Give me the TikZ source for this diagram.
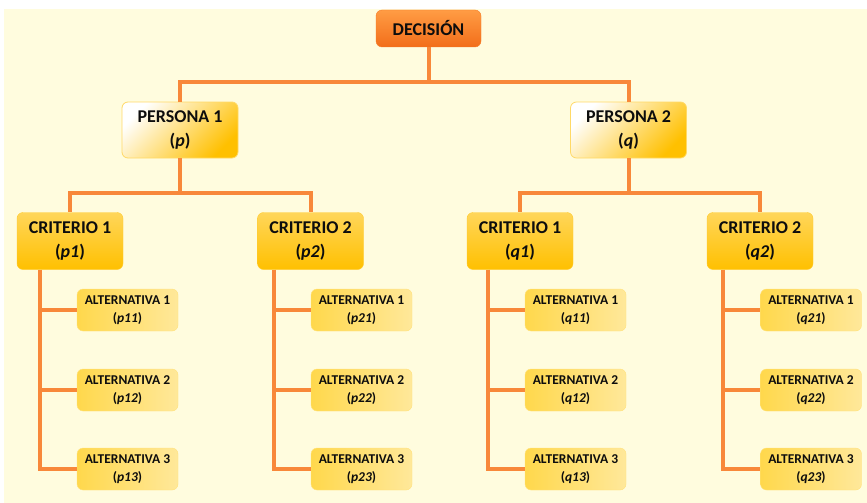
\documentclass[tikz,border=0pt]{standalone}
\usepackage{fontspec}
\setmainfont{Carlito}
\usetikzlibrary{positioning}

\definecolor{fondo}{HTML}{FFFCDE}
\definecolor{naranja}{HTML}{F8883A}
\definecolor{decA}{HTML}{FF9C44}
\definecolor{decB}{HTML}{F26E1A}
\definecolor{oro}{HTML}{FFC000}
\definecolor{criA}{HTML}{FFD65A}
\definecolor{altA}{HTML}{FFD84C}
\definecolor{altB}{HTML}{FFE89A}

\begin{document}
\begin{tikzpicture}[
    x=1pt, y=-1pt,
    % Box styles
    caja/.style={
        rounded corners=6pt,
        align=center,
        inner sep=0pt,
        text=black!95,
        font=\bfseries\fontsize{18}{24}\selectfont
    },
    decision/.style={
        caja,
        minimum width=105pt, minimum height=37pt,
        top color=decA, bottom color=decB,
        draw=decB!70!decA
    },
    persona/.style={
        caja,
        minimum width=116pt, minimum height=56pt,
        top color=white, bottom color=oro, shading angle=45,
        draw=oro!60, line width=0.8pt
    },
    criterio/.style={
        caja,
        minimum width=106pt, minimum height=57pt,
        top color=criA, bottom color=oro,
        draw=oro!50!criA
    },
    alternativa/.style={
        caja,
        minimum width=101pt, minimum height=42pt,
        left color=altA, right color=altB,
        draw=altB!60!altA,
        font=\bfseries\fontsize{13.5}{18}\selectfont
    },
    link/.style={
        draw=naranja,
        line width=4pt
    }
]
    % Page and background
    \useasboundingbox (0,0) rectangle (867,503);
    \fill[white] (0,0) rectangle (867,503);
    \fill[fondo] (4,9) rectangle (867,503);

    % Root
    \node[decision] (dec) at (428.5,28.5) {DECISIÓN};

    % Persons
    \node[persona] (p) at (180,130) {PERSONA 1\\(\textit{p})};
    \node[persona] (q) at (628.5,130) {PERSONA 2\\(\textit{q})};

    % Criteria
    \node[criterio] (cp1) at (70,241) {CRITERIO 1\\(\textit{p1})};
    \node[criterio] (cp2) at (310.5,241) {CRITERIO 2\\(\textit{p2})};
    \node[criterio] (cq1) at (520,241) {CRITERIO 1\\(\textit{q1})};
    \node[criterio] (cq2) at (760,241) {CRITERIO 2\\(\textit{q2})};

    % Trunks below the criteria
    \coordinate (tp1) at (40,0);
    \coordinate (tp2) at (274,0);
    \coordinate (tq1) at (488,0);
    \coordinate (tq2) at (723,0);

    % Alternatives
    \foreach \r/\cy in {1/310, 2/390, 3/469} {
        \node[alternativa] (ap1\r) at (127.5,\cy) {ALTERNATIVA \r\\(\textit{p1\r})};
        \node[alternativa] (ap2\r) at (361.5,\cy) {ALTERNATIVA \r\\(\textit{p2\r})};
        \node[alternativa] (aq1\r) at (575.5,\cy) {ALTERNATIVA \r\\(\textit{q1\r})};
        \node[alternativa] (aq2\r) at (811,\cy) {ALTERNATIVA \r\\(\textit{q2\r})};
    }

    % Upper connectors
    \draw[link] (dec.south) -- ++(0,35) -| (p.north);
    \draw[link] (dec.south) -- ++(0,35) -| (q.north);
    \draw[link] (p.south) -- ++(0,35) -| (cp1.north);
    \draw[link] (p.south) -- ++(0,35) -| (cp2.north);
    \draw[link] (q.south) -- ++(0,35) -| (cq1.north);
    \draw[link] (q.south) -- ++(0,35) -| (cq2.north);

    % Criteria to alternatives
    \foreach \c in {p1, p2, q1, q2} {
        \draw[link] (c\c.south -| t\c) |- (a\c3.west);
        \draw[link] (t\c |- a\c1.west) -- (a\c1.west);
        \draw[link] (t\c |- a\c2.west) -- (a\c2.west);
    }
\end{tikzpicture}
\end{document}
